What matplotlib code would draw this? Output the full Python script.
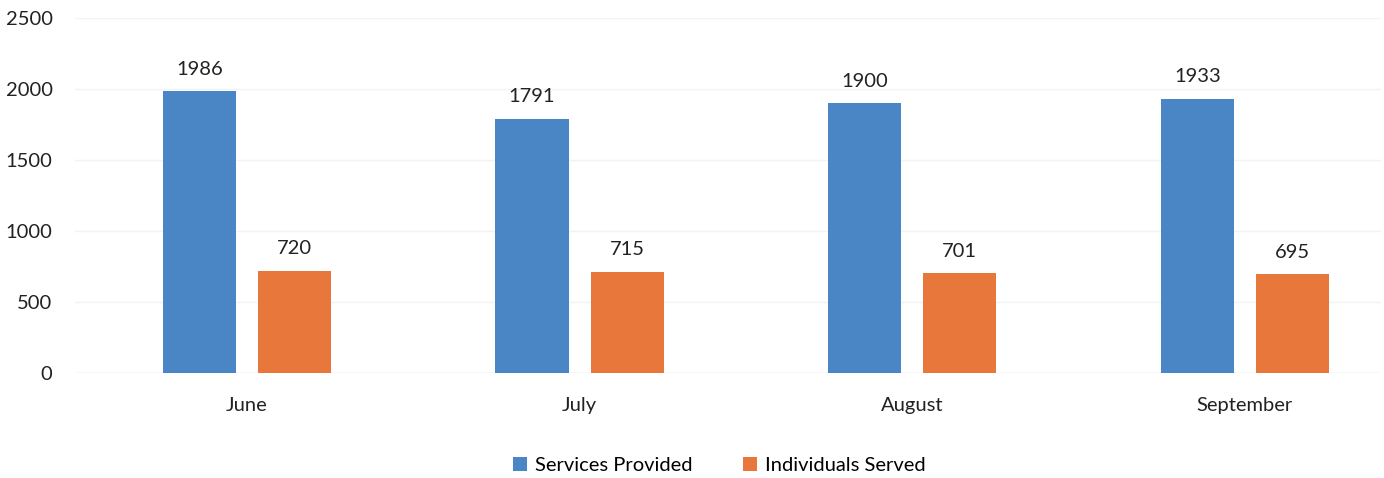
import numpy as np
import matplotlib
matplotlib.use("Agg")
import matplotlib.pyplot as plt

months = ["June", "July", "August", "September"]
services = [1986, 1791, 1900, 1933]
individuals = [720, 715, 701, 695]

plt.rcParams['font.family'] = ['Lato', 'DejaVu Sans']

fig = plt.figure(figsize=(13.84, 4.78), dpi=100)
ax = fig.add_axes([0.054, 0.2197, 0.944, 0.7423])

x = np.arange(len(months))
w = 0.22
off = 0.143
blue = "#4A86C6"
orange = "#E8773B"

b1 = ax.bar(x - off, services, w, color=blue, label="Services Provided", zorder=3)
b2 = ax.bar(x + off, individuals, w, color=orange, label="Individuals Served", zorder=3)

for bars in (b1, b2):
    for bar in bars:
        h = bar.get_height()
        ax.text(bar.get_x() + bar.get_width() / 2, h + 95, f"{h:.0f}",
                ha="center", va="bottom", fontsize=14.5, color="#222222")

ax.set_xlim(-0.518, 3.41)
ax.set_ylim(0, 2500)
ax.set_yticks(range(0, 2501, 500))
ax.set_xticks(x)
ax.set_xticklabels(months)
ax.grid(axis="y", color="#f3f3f3", linewidth=1, zorder=0)
ax.tick_params(axis="both", length=0, labelsize=14.5, colors="#222222")
ax.tick_params(axis="x", pad=17)
ax.tick_params(axis="y", pad=16)
for s in ax.spines.values():
    s.set_visible(False)
ax.axhline(0, color="#e8e8e8", linewidth=1, zorder=1)

fig.legend(loc="center", bbox_to_anchor=(0.52, 0.027), ncol=2, frameon=False,
           fontsize=14.5, handlelength=0.7, handleheight=0.7, columnspacing=2.5,
           handletextpad=0.4)

fig.savefig("out.png", dpi=100)
